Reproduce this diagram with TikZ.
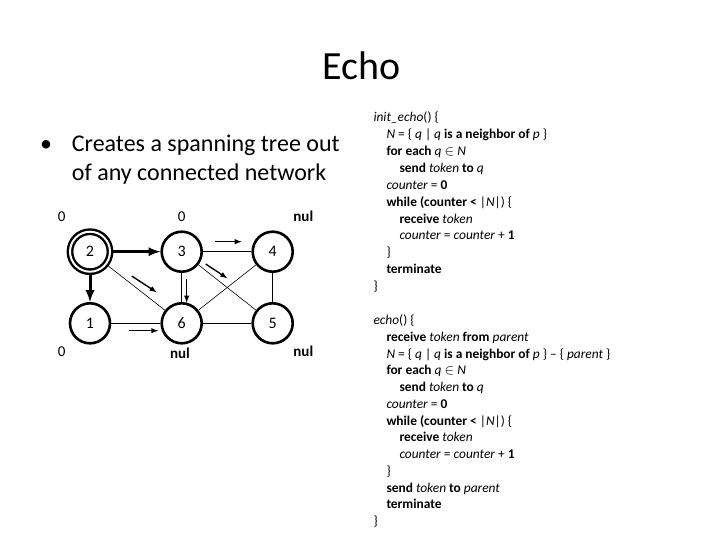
\documentclass[tikz,border=0pt]{standalone}
\usepackage{fontspec}
\setmainfont{Carlito}
\usepackage{tikz}

\newcommand{\var}[1]{\textit{#1}}
\newcommand{\ind}{\hspace*{13pt}}

\tikzset{
  vertex/.style={circle, draw, line width=2.6pt, minimum size=40pt, inner sep=0pt,
    font=\fontsize{16}{19}\selectfont},
  edge/.style={line width=0.6pt},
  tree/.style={-latex, line width=3pt},
  msg/.style={-latex, line width=1.4pt},
  vlabel/.style={font=\fontsize{15}{18}\selectfont},
  code/.style={anchor=base west, inner sep=0pt, font=\fontsize{13.4}{16}\selectfont},
  bullettext/.style={anchor=base west, inner sep=0pt, font=\fontsize{24}{29}\selectfont}
}

\begin{document}
\begin{tikzpicture}[x=1pt, y=-1pt]
  \useasboundingbox[fill=white] (0,0) rectangle (720,540);

  % title and bullet
  \node[font=\fontsize{40}{48}\selectfont] (title) at (361.5,66) {Echo};
  \node[font=\fontsize{24}{29}\selectfont] (bul) at (46,146) {\textbullet};
  \node[bullettext] (line1) at (71.7,151.2) {Creates a spanning tree out};
  \node[bullettext] (line2) at (71.7,180.8) {of any connected network};

  % the network
  \node[vertex, double, double distance=2pt, line width=2.4pt] (n2) at (90,251.7) {2};
  \node[vertex] (n3) at (181.7,251.7) {3};
  \node[vertex] (n4) at (272.7,251.7) {4};
  \node[vertex] (n1) at (90,323.3) {1};
  \node[vertex] (n6) at (181.7,323.3) {6};
  \node[vertex] (n5) at (272.7,323.3) {5};

  \draw[edge] (n3) -- (n4);
  \draw[edge] (n4) -- (n5);
  \draw[edge] (n1) -- (n6);
  \draw[edge] (n6) -- (n5);
  \draw[edge] (n3) -- (n6);
  \draw[edge] (n2) -- (n6);
  \draw[edge] (n3) -- (n5);
  \draw[edge] (n4) -- (n6);
  \draw[tree] (n2) -- (n3);
  \draw[tree] (n2) -- (n1);

  % tokens on their way
  \coordinate (m34a) at (215,241.7);   \coordinate (m34b) at (241.7,241.7);
  \coordinate (m26a) at (131.7,276);   \coordinate (m26b) at (156.7,292.3);
  \coordinate (m35a) at (205.7,264);   \coordinate (m35b) at (227.3,278.3);
  \coordinate (m36a) at (186.7,279.3); \coordinate (m36b) at (186.7,302.7);
  \coordinate (m16a) at (129.3,330.7); \coordinate (m16b) at (158.3,330.7);
  \draw[msg] (m34a) -- (m34b);
  \draw[msg] (m26a) -- (m26b);
  \draw[msg] (m35a) -- (m35b);
  \draw[msg] (m36a) -- (m36b);
  \draw[msg] (m16a) -- (m16b);

  \node[vlabel] (v2) at (61.7,216.7) {0};
  \node[vlabel] (v3) at (181.7,216.7) {0};
  \node[vlabel] (v4) at (303.3,216.7) {\textbf{nul}};
  \node[vlabel] (v1) at (61.7,351.7) {0};
  \node[vlabel] (v6) at (180,353.3) {\textbf{nul}};
  \node[vlabel] (v5) at (303.3,351.7) {\textbf{nul}};

  % the two procedures
  \foreach \txt [count=\i from 0] in {
    {\var{init\_echo}() \{},
    {\ind\var{N} = \{ \var{q} | \var{q} \textbf{is a neighbor of} \var{p} \}},
    {\ind\textbf{for each} \var{q} $\in$ \var{N}},
    {\ind\ind\textbf{send} \var{token} \textbf{to} \var{q}},
    {\ind\var{counter} = \textbf{0}},
    {\ind\textbf{while (counter <} |\var{N}|) \{},
    {\ind\ind\textbf{receive} \var{token}},
    {\ind\ind\var{counter} = \var{counter} + \textbf{1}},
    {\ind\}},
    {\ind\textbf{terminate}},
    {\}}}
    \node[code] (init\i) at (373.3,121.7+16.9*\i) {\txt};

  \foreach \txt [count=\i from 0] in {
    {\var{echo}() \{},
    {\ind\textbf{receive} \var{token} \textbf{from} \var{parent}},
    {\ind\var{N} = \{ \var{q} | \var{q} \textbf{is a neighbor of} \var{p} \} -- \{ \var{parent} \}},
    {\ind\textbf{for each} \var{q} $\in$ \var{N}},
    {\ind\ind\textbf{send} \var{token} \textbf{to} \var{q}},
    {\ind\var{counter} = \textbf{0}},
    {\ind\textbf{while (counter <} |\var{N}|) \{},
    {\ind\ind\textbf{receive} \var{token}},
    {\ind\ind\var{counter} = \var{counter} + \textbf{1}},
    {\ind\}},
    {\ind\textbf{send} \var{token} \textbf{to} \var{parent}},
    {\ind\textbf{terminate}},
    {\}}}
    \node[code] (echo\i) at (373.3,324.5+16.75*\i) {\txt};
\end{tikzpicture}
\end{document}
